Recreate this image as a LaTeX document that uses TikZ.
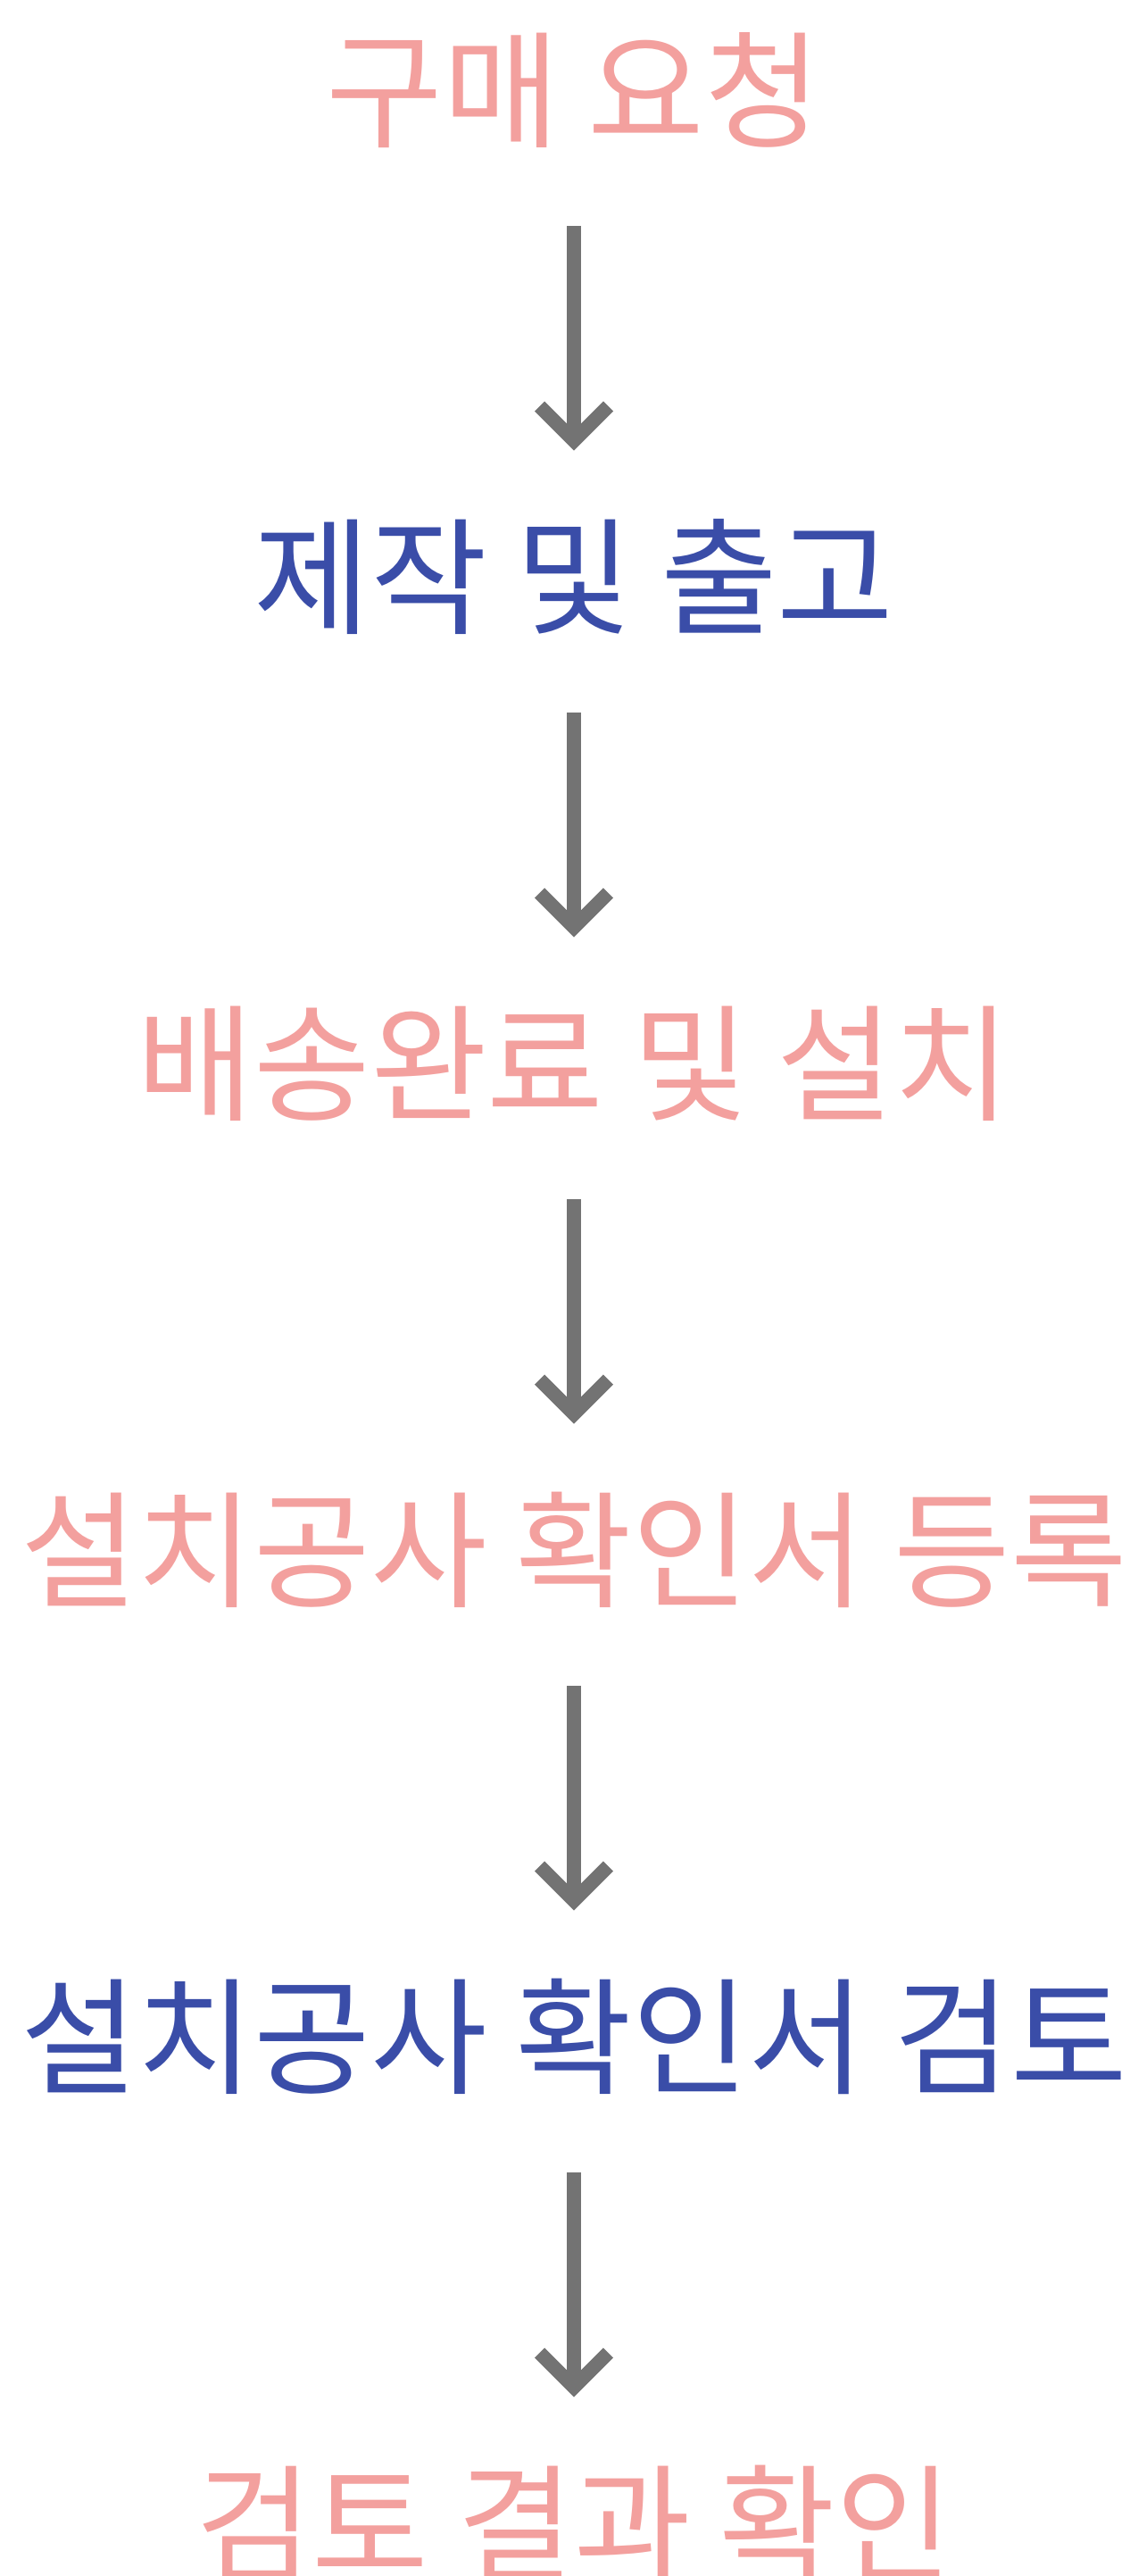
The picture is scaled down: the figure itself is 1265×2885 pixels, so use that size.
\documentclass[tikz,border=0pt]{standalone}
\usepackage{fontspec}
\newfontfamily\krfont{Noto Sans CJK KR}
\usepackage{tikz}
\usetikzlibrary{arrows.meta}

\definecolor{stagepink}{HTML}{F3A09E}
\definecolor{stageblue}{HTML}{3A4DA8}
\definecolor{flowgray}{HTML}{737373}

\begin{document}
\begin{tikzpicture}[x=0.5pt,y=-0.5pt,
	stage/.style={inner sep=0pt,font=\krfont\fontsize{71pt}{78pt}\selectfont,text height=57.5pt,text depth=4.3pt},
	flow/.style={draw=flowgray,line width=7.85pt,shorten <=45.1pt,shorten >=39.6pt,
		-{Straight Barb[length=19.25pt,width=38.5pt]}}]
	\useasboundingbox (0,0) rectangle (1265,2885);

	\node (request) [stage,text=stagepink] at (643,101) {구매 요청};
	\node (making) [stage,text=stageblue] at (643,646) {제작 및 출고};
	\node (delivery) [stage,text=stagepink] at (643,1191) {배송완료 및 설치};
	\node (register) [stage,text=stagepink] at (643,1736) {설치공사 확인서 등록};
	\node (review) [stage,text=stageblue] at (643,2281) {설치공사 확인서 검토};
	\node (result) [stage,text=stagepink] at (643,2826) {검토 결과 확인};

	\draw [flow] (request) -- (making);
	\draw [flow] (making) -- (delivery);
	\draw [flow] (delivery) -- (register);
	\draw [flow] (register) -- (review);
	\draw [flow] (review) -- (result);
\end{tikzpicture}
\end{document}
